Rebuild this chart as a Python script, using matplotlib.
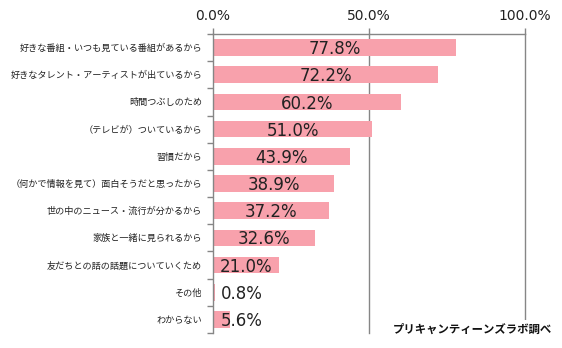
import matplotlib
matplotlib.use("Agg")
import matplotlib.pyplot as plt
import numpy as np

# data
categories = [
    "好きな番組・いつも見ている番組があるから",
    "好きなタレント・アーティストが出ているから",
    "時間つぶしのため",
    "（テレビが）ついているから",
    "習慣だから",
    "（何かで情報を見て）面白そうだと思ったから",
    "世の中のニュース・流行が分かるから",
    "家族と一緒に見られるから",
    "友だちとの話の話題についていくため",
    "その他",
    "わからない",
]
values = [77.8, 72.2, 60.2, 51.0, 43.9, 38.9, 37.2, 32.6, 21.0, 0.8, 5.6]
xticks = [0, 50, 100]
source = "プリキャンティーンズラボ調べ"

bar_color = "#F8A1AC"
line_color = "#868686"
jp_font = ["Noto Sans CJK JP", "DejaVu Sans"]

fig = plt.figure(figsize=(5.62, 3.48), dpi=100)
ax = fig.add_axes([213 / 562, 1 - 333 / 348, 312 / 562, 299 / 348])

n = len(categories)
y = np.arange(n)
ax.barh(y, values, height=0.61, color=bar_color, zorder=2)

ax.set_xlim(0, 100)
ax.set_ylim(n - 0.5, -0.5)

# gridlines at 50 and 100
for g in xticks[1:]:
    ax.axvline(g, color=line_color, lw=1, zorder=1, clip_on=False)

# top axis
ax.xaxis.tick_top()
ax.set_xticks(xticks)
ax.set_xticklabels([f"{t:.1f}%" for t in xticks], fontsize=10, color="#222222")
ax.tick_params(axis="x", direction="out", length=4, width=1, color=line_color, pad=4)

# category labels with ticks at boundaries
ax.set_yticks(y)
ax.set_yticklabels(categories, fontsize=6.6, family=jp_font, color="#222222")
ax.tick_params(axis="y", length=0, pad=8)
ax.set_yticks(np.arange(n + 1) - 0.5, minor=True)
ax.tick_params(axis="y", which="minor", direction="out", length=4, width=1, color=line_color)

for s in ["right", "bottom"]:
    ax.spines[s].set_visible(False)
for s in ["top", "left"]:
    ax.spines[s].set_color(line_color)
    ax.spines[s].set_linewidth(1)

# value labels (centered, kept off the axis for short bars)
for yi, v in zip(y, values):
    ax.text(max(v / 2, 9.3), yi + 0.06, f"{v:.1f}%", ha="center", va="center",
            fontsize=12, color="#222222", zorder=3)

fig.text(0.982, 1 - 329 / 348, source, ha="right", va="center",
         fontsize=8.2, fontweight="bold", family=jp_font, color="#111111",
         bbox=dict(facecolor="white", edgecolor="none", pad=2), zorder=5)

fig.savefig("out.png", dpi=100)
